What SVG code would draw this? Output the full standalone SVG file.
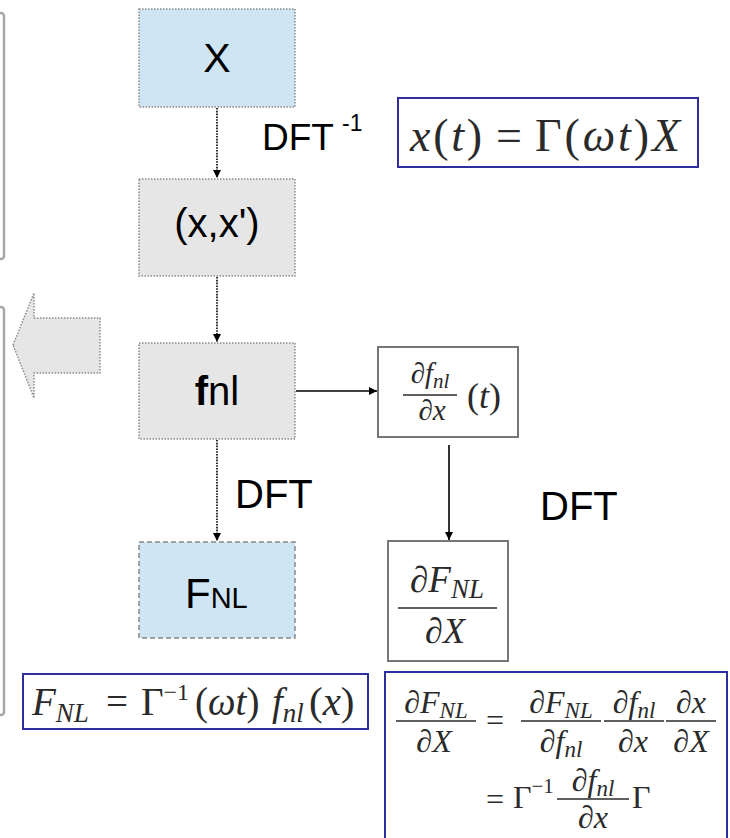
<svg xmlns="http://www.w3.org/2000/svg" width="730" height="838" viewBox="0 0 730 838">
<defs>
<style>
.blue{fill:#cfe5f3}
.gray{fill:#e6e6e6}
.dot{stroke:#8c8c8c;stroke-width:1.5;stroke-dasharray:1.5 1.5}
.dash{stroke:#888;stroke-width:1.5;stroke-dasharray:5 3}
.lbl{font-family:"Liberation Sans",Arial,sans-serif;fill:#000}
.m{font-family:"Liberation Serif","Times New Roman",serif;fill:#2a2a2a}
.i{font-style:italic}
.eqbox{fill:#fff;stroke:#2e2e9e;stroke-width:2}
.gbox{fill:#fff;stroke:#777;stroke-width:2}
.bar{stroke:#2a2a2a;stroke-width:1.6}
.dl{stroke:#000;stroke-width:1.6;stroke-dasharray:1.6 1.2;fill:none}
.sl{stroke:#000;stroke-width:1.6;fill:none}
.side{fill:none;stroke:#a8a8a8;stroke-width:2.5}
</style>
<marker id="ah" markerUnits="userSpaceOnUse" markerWidth="9" markerHeight="9" refX="8" refY="4.5" orient="auto">
<path d="M0,0.5 L8,4.5 L0,8.5 z" fill="#000"/>
</marker>
</defs>
<rect width="730" height="838" fill="#fff"/>

<g id="side-panels">
<rect class="side" x="-20" y="13" width="24" height="246" rx="3"/>
<rect class="side" x="-20" y="307" width="24" height="408" rx="3"/>
<polygon points="13,345 34,293 34,318 100,318 100,373 34,373 34,398" fill="#e6e6e6" stroke="#8c8c8c" stroke-width="1.5" stroke-dasharray="1.5 1.5"/>
</g>

<g id="connectors">
<line class="dl" x1="217" y1="108" x2="217" y2="178" marker-end="url(#ah)"/>
<line class="dl" x1="217" y1="277" x2="217" y2="342" marker-end="url(#ah)"/>
<line class="dl" x1="217" y1="440" x2="217" y2="541" marker-end="url(#ah)"/>
<line class="sl" x1="296" y1="391" x2="377" y2="391" marker-end="url(#ah)"/>
<line class="sl" x1="449" y1="445" x2="449" y2="540" marker-end="url(#ah)"/>
</g>

<g id="node-X">
<rect class="blue dot" x="139" y="9" width="156" height="98"/>
<text class="lbl" x="217" y="72" font-size="41" text-anchor="middle">X</text>
</g>

<g id="node-xxp">
<rect class="gray dot" x="139" y="179" width="156" height="97"/>
<text class="lbl" x="217" y="237" font-size="40" text-anchor="middle">(x,x')</text>
</g>

<g id="node-fnl">
<rect class="gray dot" x="139" y="343" width="156" height="96"/>
<text class="lbl" x="217" y="405" font-size="40" text-anchor="middle"><tspan font-weight="bold">f</tspan>nl</text>
</g>

<g id="node-FNL">
<rect class="blue dash" x="139" y="542" width="156" height="96"/>
<text class="lbl" x="185" y="608" font-size="42">F<tspan font-size="29">NL</tspan></text>
</g>

<g id="labels">
<text class="lbl" x="262" y="150" font-size="37">DFT</text>
<text class="lbl" x="342" y="131" font-size="23">-1</text>
<text class="lbl" x="235" y="508" font-size="40">DFT</text>
<text class="lbl" x="540" y="520" font-size="40">DFT</text>
</g>

<g id="eq-xt">
<rect class="eqbox" x="398" y="98" width="300" height="69"/>
<text class="m" x="410" y="151" font-size="46" textLength="72" lengthAdjust="spacing"><tspan class="i">x</tspan>(<tspan class="i">t</tspan>)</text>
<text class="m" x="496" y="151" font-size="46">=</text>
<text class="m" x="535" y="151" font-size="46" textLength="145" lengthAdjust="spacing">Γ(<tspan class="i">ωt</tspan>)<tspan class="i">X</tspan></text>
</g>

<g id="node-dfdx">
<rect class="gbox" x="378" y="347" width="140" height="90"/>
<text class="m" x="430" y="383" font-size="29" text-anchor="middle">∂<tspan class="i">f</tspan><tspan class="i" font-size="21" dy="5">nl</tspan></text>
<line class="bar" x1="403" y1="395" x2="457" y2="395"/>
<text class="m" x="432" y="420" font-size="29" text-anchor="middle">∂<tspan class="i">x</tspan></text>
<text class="m" x="484" y="408" font-size="36" text-anchor="middle">(<tspan class="i">t</tspan>)</text>
</g>

<g id="node-dFdX">
<rect class="gbox" x="388" y="541" width="120" height="120"/>
<text class="m" x="447" y="592" font-size="37" text-anchor="middle">∂<tspan class="i">F</tspan><tspan class="i" font-size="27" dy="6">NL</tspan></text>
<line class="bar" x1="398" y1="608" x2="497" y2="608"/>
<text class="m" x="445" y="643" font-size="36" text-anchor="middle">∂<tspan class="i">X</tspan></text>
</g>

<g id="eq-FNL">
<rect class="eqbox" x="23" y="674" width="345" height="55"/>
<text class="m" y="715" font-size="39"><tspan x="32" class="i">F</tspan><tspan class="i" font-size="27" dy="7">NL</tspan><tspan x="106" dy="-7">=</tspan><tspan x="141">Γ</tspan><tspan font-size="24" dy="-15">−1</tspan><tspan x="195" dy="15">(</tspan><tspan class="i">ωt</tspan>)<tspan x="272" class="i">f</tspan><tspan class="i" font-size="27" dy="7">nl</tspan><tspan x="309" dy="-7" font-size="41">(</tspan><tspan class="i" font-size="41">x</tspan><tspan font-size="41">)</tspan></text>
</g>

<g id="eq-chain">
<rect class="eqbox" x="385" y="672" width="342" height="190"/>
<!-- frac 1 -->
<text class="m" x="436" y="713" font-size="32" text-anchor="middle">∂<tspan class="i">F</tspan><tspan class="i" font-size="23" dy="5">NL</tspan></text>
<line class="bar" x1="396" y1="721" x2="476" y2="721"/>
<text class="m" x="434" y="752" font-size="32" text-anchor="middle">∂<tspan class="i">X</tspan></text>
<text class="m" x="486" y="731" font-size="32">=</text>
<!-- frac 2 -->
<text class="m" x="561" y="713" font-size="32" text-anchor="middle">∂<tspan class="i">F</tspan><tspan class="i" font-size="23" dy="5">NL</tspan></text>
<line class="bar" x1="521" y1="721" x2="601" y2="721"/>
<text class="m" x="561" y="752" font-size="32" text-anchor="middle">∂<tspan class="i">f</tspan><tspan class="i" font-size="23" dy="5">nl</tspan></text>
<!-- frac 3 -->
<text class="m" x="634" y="713" font-size="32" text-anchor="middle">∂<tspan class="i">f</tspan><tspan class="i" font-size="23" dy="5">nl</tspan></text>
<line class="bar" x1="604" y1="721" x2="664" y2="721"/>
<text class="m" x="633" y="752" font-size="32" text-anchor="middle">∂<tspan class="i">x</tspan></text>
<!-- frac 4 -->
<text class="m" x="691" y="713" font-size="32" text-anchor="middle">∂<tspan class="i">x</tspan></text>
<line class="bar" x1="666" y1="721" x2="716" y2="721"/>
<text class="m" x="691" y="752" font-size="32" text-anchor="middle">∂<tspan class="i">X</tspan></text>
<!-- line 2 -->
<text class="m" x="486" y="810" font-size="32">=</text>
<text class="m" x="513" y="808" font-size="32">Γ<tspan font-size="21" dy="-15">−1</tspan></text>
<text class="m" x="593" y="791" font-size="32" text-anchor="middle">∂<tspan class="i">f</tspan><tspan class="i" font-size="23" dy="5">nl</tspan></text>
<line class="bar" x1="557" y1="799" x2="629" y2="799"/>
<text class="m" x="593" y="828" font-size="32" text-anchor="middle">∂<tspan class="i">x</tspan></text>
<text class="m" x="632" y="808" font-size="32">Γ</text>
</g>
</svg>
